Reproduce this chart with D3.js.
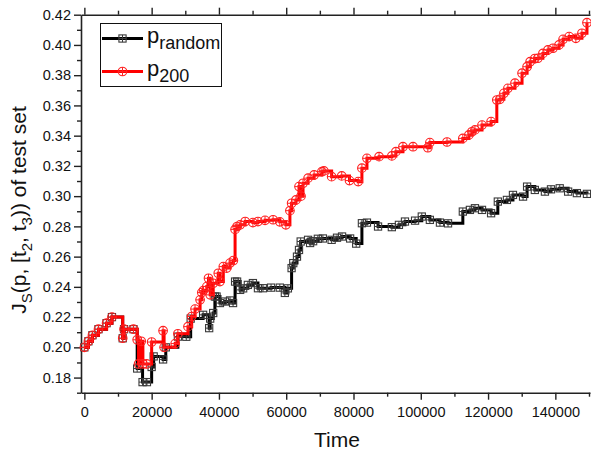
<!DOCTYPE html>
<html>
<head>
<meta charset="utf-8">
<script src="https://cdn.jsdelivr.net/npm/d3@7"></script>
<style>
  body { margin: 0; background: #fff; }
  svg { display: block; font-family: "Liberation Sans", Arial, sans-serif; }
</style>
</head>
<body>
<svg id="chart" width="591" height="453"></svg>
<script>
// p_random series: [time, value]
var randomSeries = [
  [0,0.200],[1200,0.204],[2400,0.208],[4200,0.212],[6600,0.216],[8200,0.220],[11400,0.206],[11800,0.212],
  [14600,0.212],[15700,0.186],[17300,0.177],[18600,0.177],[20000,0.187],[20600,0.194],[23400,0.192],
  [24200,0.200],[27800,0.2071],[30300,0.207],[31600,0.219],[35300,0.2215],[37100,0.2127],[37400,0.219],
  [38300,0.2227],[38800,0.2336],[39300,0.2336],[40300,0.2293],[41800,0.2303],[43300,0.231],[44200,0.2293],
  [44800,0.2435],[45400,0.2435],[46300,0.238],[47200,0.239],[48600,0.2413],[50100,0.2425],[51600,0.2391],
  [53100,0.2391],[55500,0.2395],[58100,0.2395],[59600,0.236],[60500,0.239],[61600,0.2524],[62100,0.2557],
  [63200,0.260],[63800,0.2644],[64300,0.270],[66500,0.2711],[67100,0.269],[68000,0.2702],[69400,0.2718],
  [70900,0.272],[73500,0.2711],[75100,0.2725],[76600,0.2733],[79000,0.272],[80800,0.2686],[82500,0.2821],
  [84000,0.2825],[87300,0.2799],[91400,0.2795],[93500,0.281],[95300,0.2832],[98300,0.2838],[100300,0.2865],
  [102700,0.2843],[105700,0.2825],[108100,0.282],[112500,0.2898],[114600,0.2909],[116100,0.292],
  [118200,0.2909],[120900,0.2887],[122900,0.2964],[125600,0.2975],[127400,0.3008],[130400,0.2997],
  [131600,0.3063],[133900,0.3041],[136900,0.303],[138700,0.3045],[141300,0.3052],[143800,0.303],
  [146400,0.302],[149400,0.3015]
];

// p_200 series: [time, value]
var p200Series = [
  [0,0.200],[1200,0.204],[2400,0.208],[4200,0.212],[6600,0.216],[8200,0.220],[11400,0.206],[11800,0.212],
  [14600,0.212],[15700,0.205],[16100,0.189],[16900,0.204],[17400,0.189],[18500,0.189],[20000,0.2035],
  [23400,0.211],[23700,0.200],[27000,0.2025],[27800,0.209],[30800,0.2137],[31900,0.2204],[32900,0.2253],
  [34400,0.2314],[34900,0.2362],[35400,0.2376],[36400,0.2402],[36900,0.2457],[37400,0.2347],[38300,0.2424],
  [39800,0.249],[40300,0.2435],[41300,0.2534],[42300,0.2524],[43300,0.2557],[44300,0.2574],[44800,0.278],
  [45400,0.2799],[46300,0.281],[47800,0.2832],[50100,0.2825],[51600,0.2832],[53700,0.284],[56100,0.2844],
  [58100,0.283],[59900,0.281],[61100,0.2904],[61600,0.2953],[62900,0.2975],[63800,0.3063],[64400,0.300],
  [65000,0.3085],[66500,0.3119],[68300,0.314],[70600,0.3162],[71200,0.3167],[73500,0.3129],[76500,0.3134],
  [78800,0.3103],[81400,0.3096],[82500,0.3185],[84000,0.325],[87600,0.3261],[91400,0.3266],[92600,0.3294],
  [94700,0.3327],[97700,0.3327],[102100,0.332],[102700,0.3354],[107800,0.3358],[112500,0.3382],
  [114300,0.3405],[115200,0.3426],[116100,0.3438],[118200,0.347],[120900,0.3493],[122600,0.3636],
  [123500,0.364],[124700,0.368],[125900,0.3713],[128000,0.3747],[130100,0.3813],[131600,0.3856],
  [132500,0.3889],[133900,0.391],[134800,0.3912],[136300,0.3944],[137800,0.3967],[139300,0.3978],
  [141100,0.400],[142300,0.4037],[144100,0.4055],[146100,0.4044],[147900,0.4077],[149400,0.4147]
];

var xMajorTicks = [0, 20000, 40000, 60000, 80000, 100000, 120000, 140000];
var xMinorTicks = [10000, 30000, 50000, 70000, 90000, 110000, 130000, 150000];
var yMajorTicks = [0.18, 0.20, 0.22, 0.24, 0.26, 0.28, 0.30, 0.32, 0.34, 0.36, 0.38, 0.40, 0.42];
var yMinorTicks = [0.17, 0.19, 0.21, 0.23, 0.25, 0.27, 0.29, 0.31, 0.33, 0.35, 0.37, 0.39, 0.41];

var svg = d3.select("#chart");
var plot = {left: 81, right: 590, top: 14.7, bottom: 392.7};

var xScale = d3.scaleLinear().domain([-1000, 150300]).range([plot.left, plot.right]);
var yScale = d3.scaleLinear().domain([0.17, 0.42]).range([plot.bottom, plot.top]);

var axisColor = "#222";

function styleAxis(g){
  g.selectAll("path.domain").attr("stroke", axisColor).attr("stroke-width", 1.6);
  g.selectAll(".tick line").attr("stroke", axisColor).attr("stroke-width", 1.4);
  g.selectAll(".tick text").attr("fill", "#111").style("font-size", "14.5px")
    .style("font-family", "'Liberation Sans', Arial, sans-serif");
}

// minor ticks (no domain line)
function minor(g){ g.select("path.domain").remove(); styleAxis(g); }

svg.append("g").attr("transform", "translate(0," + plot.bottom + ")")
  .call(d3.axisBottom(xScale).tickValues(xMinorTicks).tickSize(4).tickFormat("")).call(minor);
svg.append("g").attr("transform", "translate(0," + plot.top + ")")
  .call(d3.axisTop(xScale).tickValues(xMinorTicks).tickSize(4).tickFormat("")).call(minor);
svg.append("g").attr("transform", "translate(" + plot.left + ",0)")
  .call(d3.axisLeft(yScale).tickValues(yMinorTicks).tickSize(4).tickFormat("")).call(minor);

svg.append("g").attr("transform", "translate(0," + plot.bottom + ")")
  .call(d3.axisBottom(xScale).tickValues(xMajorTicks).tickSize(7).tickSizeOuter(0)
        .tickPadding(7).tickFormat(d3.format("d")))
  .call(styleAxis);
svg.append("g").attr("transform", "translate(0," + plot.top + ")")
  .call(d3.axisTop(xScale).tickValues(xMajorTicks).tickSize(7).tickSizeOuter(0).tickFormat(""))
  .call(styleAxis);
svg.append("g").attr("transform", "translate(" + plot.left + ",0)")
  .call(d3.axisLeft(yScale).tickValues(yMajorTicks).tickSize(7).tickSizeOuter(0)
        .tickPadding(3).tickFormat(d3.format(".2f")))
  .call(styleAxis);

// axis titles
svg.append("text")
  .attr("x", 337).attr("y", 447)
  .attr("text-anchor", "middle")
  .style("font-size", "21px").attr("fill", "#111")
  .text("Time");

var yTitle = svg.append("text")
  .attr("transform", "translate(26,210) rotate(-90)")
  .attr("text-anchor", "middle")
  .style("font-size", "21px").attr("fill", "#111");
yTitle.append("tspan").text("J");
yTitle.append("tspan").attr("dy", 6).style("font-size", "15px").text("S");
yTitle.append("tspan").attr("dy", -6).text("(p, [t");
yTitle.append("tspan").attr("dy", 6).style("font-size", "15px").text("2");
yTitle.append("tspan").attr("dy", -6).text(", t");
yTitle.append("tspan").attr("dy", 6).style("font-size", "15px").text("3");
yTitle.append("tspan").attr("dy", -6).text(")) of test set");

// series
var line = d3.line()
  .x(d => xScale(d[0]))
  .y(d => yScale(d[1]))
  .curve(d3.curveStepAfter);

function squareMarker(g, cx, cy, color){
  var s = 3.6;
  g.append("rect").attr("x", cx - s).attr("y", cy - s).attr("width", 2 * s).attr("height", 2 * s)
    .attr("fill", "none").attr("stroke", color).attr("stroke-width", 1.1);
  g.append("path").attr("d", "M" + (cx - s) + "," + cy + "H" + (cx + s) + "M" + cx + "," + (cy - s) + "V" + (cy + s))
    .attr("stroke", color).attr("stroke-width", 1);
}
function circleMarker(g, cx, cy, color){
  var r = 4.3;
  g.append("circle").attr("cx", cx).attr("cy", cy).attr("r", r)
    .attr("fill", "none").attr("stroke", color).attr("stroke-width", 1.1);
  g.append("path").attr("d", "M" + (cx - r) + "," + cy + "H" + (cx + r) + "M" + cx + "," + (cy - r) + "V" + (cy + r))
    .attr("stroke", color).attr("stroke-width", 1);
}

function drawSeries(data, color, markerColor, marker){
  var g = svg.append("g");
  g.append("path").datum(data)
    .attr("d", line)
    .attr("fill", "none")
    .attr("stroke", color)
    .attr("stroke-width", 3)
    .attr("stroke-linejoin", "miter");
  var mg = g.append("g");
  data.forEach(d => marker(mg, xScale(d[0]), yScale(d[1]), markerColor));
}

drawSeries(randomSeries, "#000", "#3a3a3a", squareMarker);
drawSeries(p200Series, "#ff0000", "#ff2020", circleMarker);

// legend
var legend = svg.append("g");
legend.append("rect").attr("x", 100.5).attr("y", 23.5).attr("width", 121).attr("height", 63)
  .attr("fill", "#fff").attr("stroke", "#111").attr("stroke-width", 1);

var legendItems = [
  {sub: "random", color: "#000", mcolor: "#3a3a3a", marker: squareMarker, y: 38.5},
  {sub: "200", color: "#ff0000", mcolor: "#ff2020", marker: circleMarker, y: 71.5}
];
legendItems.forEach(function(it){
  legend.append("line").attr("x1", 102).attr("x2", 143).attr("y1", it.y).attr("y2", it.y)
    .attr("stroke", it.color).attr("stroke-width", 3);
  it.marker(legend, 122.5, it.y, it.mcolor);
  var t = legend.append("text").attr("x", 147).attr("y", it.y + 4)
    .style("font-size", "22px").attr("fill", "#111");
  t.append("tspan").text("p");
  t.append("tspan").attr("dy", 6).style("font-size", "18px").text(it.sub);
});
</script>
</body>
</html>
